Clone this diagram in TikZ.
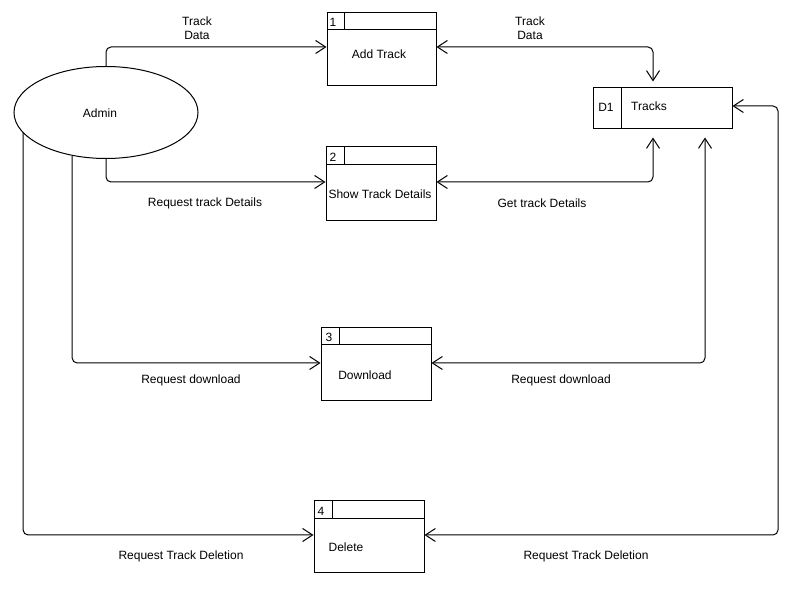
\documentclass[tikz,border=0pt]{standalone}
\usepackage{fontspec}
\setmainfont{Liberation Sans}
\usetikzlibrary{shapes.geometric,arrows.meta,calc}
\begin{document}
\begin{tikzpicture}[x=1pt,y=-1pt,line width=1pt,
  every node/.style={font=\fontsize{12}{14}\selectfont,inner sep=0pt},
  tx/.style={yshift=-1.5pt},
  procbox/.style={draw,rectangle,minimum width=110pt,minimum height=73pt},
  storebox/.style={draw,rectangle,minimum width=139pt,minimum height=41pt},
  ent/.style={draw,ellipse,minimum width=184pt,minimum height=92pt},
  flow/.style={-{Straight Barb[length=10pt,width=13pt,line width=1pt]},rounded corners=5pt},
  bflow/.style={{Straight Barb[length=10pt,width=13pt,line width=1pt]}-{Straight Barb[length=10pt,width=13pt,line width=1pt]},rounded corners=5pt},
  lbl/.style={tx,align=center}]
\useasboundingbox (0,0) rectangle (812,593);
% entity
\node[ent] (admin) at (106,112.5) {};
\node[tx] (admintxt) at (100,112) {Admin};
% processes
\node[procbox,minimum width=109pt] (p1) at (381.5,49.5) {};
\node[procbox,minimum height=74pt] (p2) at (381,184) {};
\node[procbox] (p3) at (376,364.5) {};
\node[procbox,minimum height=72pt] (p4) at (369,537) {};
\draw (327,30) -- (436,30) (344,13) -- (344,30);
\draw (326,165) -- (436,165) (344,147) -- (344,165);
\draw (321,345) -- (431,345) (339,328) -- (339,345);
\draw (314,519) -- (424,519) (332,501) -- (332,519);
\node[tx] (n1) at (333,21) {1};
\node[tx] (n2) at (333,156) {2};
\node[tx] (n3) at (329,336) {3};
\node[tx] (n4) at (321,510) {4};
\node[tx] (t1) at (379,53) {Add Track};
\node[tx] (t2) at (380,193) {Show Track Details};
\node[tx] (t3) at (365,374) {Download};
\node[tx] (t4) at (346,546) {Delete};
% data store
\node[storebox] (d1) at (662.5,108.5) {};
\draw (621,88) -- (621,129);
\node[tx] (d1id) at (606,106) {D1};
\node[tx] (d1txt) at (649,105) {Tracks};
% left flows
\draw[flow] (admin.north) |- ([yshift=2.5pt]p1.west);
\draw[flow] (admin.south) |- ([yshift=2pt]p2.west);
\draw[flow] (admin.232) |- ([yshift=1.5pt]p3.west);
\draw[flow] (admin.194.3) |- ([yshift=2pt]p4.west);
% right flows
\draw[bflow,shorten >=6pt] ([yshift=2.5pt]p1.east) -| ([xshift=-9.5pt]d1.north);
\draw[bflow,shorten >=8pt] ([yshift=2pt]p2.east) -| ([xshift=-9.5pt]d1.south);
\draw[bflow,shorten >=8pt] ([yshift=1.5pt]p3.east) -| ([xshift=42.5pt]d1.south);
\coordinate (rc) at (778,106);
\draw[bflow] ([yshift=2.5pt]d1.east) -- (rc) |- ([yshift=2pt]p4.east);
% labels
\node[lbl] (l1) at (197,27) {Track\\Data};
\node[lbl] (l2) at (530,27) {Track\\Data};
\node[tx] (l3) at (205,202) {Request track Details};
\node[tx] (l4) at (542,202) {Get track Details};
\node[tx] (l5) at (191,379) {Request download};
\node[tx] (l6) at (561,379) {Request download};
\node[tx] (l7) at (181,555) {Request Track Deletion};
\node[tx] (l8) at (586,555) {Request Track Deletion};
\end{tikzpicture}
\end{document}
